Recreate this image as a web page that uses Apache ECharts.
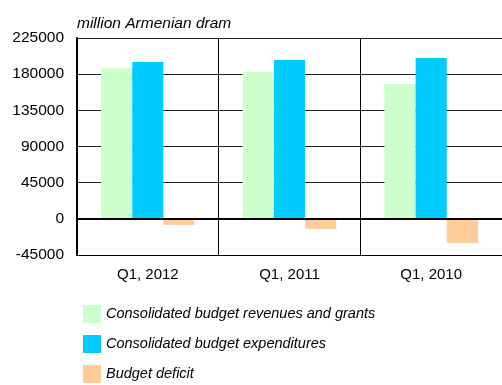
<!DOCTYPE html>
<html>
<head>
<meta charset="utf-8">
<script src="https://cdn.jsdelivr.net/npm/echarts@6/dist/echarts.min.js"></script>
<style>
  html, body { margin: 0; padding: 0; background: #fff; }
  #chart { width: 502px; height: 385px; }
</style>
</head>
<body>
<div id="chart"></div>
<script>
// Quarterly consolidated budget, million Armenian dram
const categories = ['Q1, 2012', 'Q1, 2011', 'Q1, 2010'];
const revenues = [187300, 182700, 167800];
const expenditures = [195200, 197700, 200100];
const deficit = [-7500, -12500, -30000];
const seriesNames = [
  'Consolidated budget revenues and grants',
  'Consolidated budget expenditures',
  'Budget deficit'
];
const colors = ['#CCFFCC', '#00CCFF', '#FFCC99'];
const yMin = -45000, yMax = 225000, yStep = 45000;

const chart = echarts.init(document.getElementById('chart'), null, { renderer: 'canvas' });
const font = 'Liberation Sans, Arial, sans-serif';

chart.setOption({
  animation: false,
  textStyle: { fontFamily: font },
  title: {
    text: 'million Armenian dram',
    left: 72, top: 11,
    textStyle: { fontFamily: font, fontStyle: 'italic', fontWeight: 'normal', fontSize: 15.5, color: '#000' }
  },
  legend: {
    orient: 'vertical',
    left: 83, top: 305,
    padding: 0,
    itemWidth: 18, itemHeight: 18, itemGap: 12,
    icon: 'rect',
    selectedMode: false,
    data: seriesNames,
    textStyle: { fontFamily: font, fontStyle: 'italic', fontSize: 14.5, color: '#000' }
  },
  grid: { left: 77, right: 0, top: 38, bottom: 130, containLabel: false },
  xAxis: {
    type: 'category',
    data: categories,
    axisLine: { onZero: false, lineStyle: { color: '#000', width: 1 } },
    axisTick: { show: false },
    axisLabel: { fontFamily: font, fontSize: 15, color: '#000', margin: 12 },
    splitLine: { show: true, lineStyle: { color: '#000', width: 1 } }
  },
  yAxis: {
    type: 'value',
    min: yMin, max: yMax, interval: yStep,
    axisLine: { show: true, lineStyle: { color: '#000', width: 2 } },
    axisTick: { show: false },
    axisLabel: {
      fontFamily: font, fontSize: 15.5, color: '#000', margin: 13,
      formatter: v => String(v)
    },
    splitLine: { show: true, lineStyle: { color: '#222', width: 1 } }
  },
  series: [
    {
      name: seriesNames[0], type: 'bar', data: revenues,
      itemStyle: { color: colors[0] },
      barGap: '0%', barCategoryGap: '34%'
    },
    {
      name: seriesNames[1], type: 'bar', data: expenditures,
      itemStyle: { color: colors[1] },
      barGap: '0%', barCategoryGap: '34%'
    },
    {
      name: seriesNames[2], type: 'bar', data: deficit,
      itemStyle: { color: colors[2] },
      barGap: '0%', barCategoryGap: '34%',
      markLine: {
        silent: true, symbol: 'none', label: { show: false },
        lineStyle: { color: '#000', width: 2, type: 'solid' },
        data: [{ yAxis: 0 }]
      }
    }
  ]
});
</script>
</body>
</html>
